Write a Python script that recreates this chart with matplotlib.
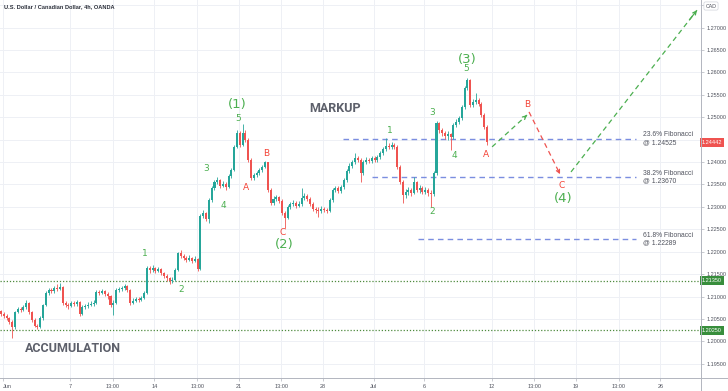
import matplotlib.pyplot as plt
from matplotlib.lines import Line2D
from matplotlib.transforms import blended_transform_factory

# USD/CAD 4h candles, x = trading days counted from Jun 1 2021
first_open = 1.2068
closes = [
    1.2061, 1.2056, 1.2052, 1.2043, 1.2032, 1.2065, 1.2072, 1.2070, 1.2077, 1.2086,
    1.2065, 1.2048, 1.2034, 1.2032, 1.2052, 1.2081, 1.2108, 1.2115, 1.2112, 1.2119,
    1.2117, 1.2121, 1.2086, 1.2081, 1.2079, 1.2086, 1.2083, 1.2088, 1.2061, 1.2077,
    1.2079, 1.2081, 1.2083, 1.2086, 1.2110, 1.2108, 1.2112, 1.2106, 1.2101, 1.2081,
    1.2086, 1.2115, 1.2117, 1.2119, 1.2123, 1.2115, 1.2086, 1.2090, 1.2094, 1.2092,
    1.2097, 1.2108, 1.2164, 1.2159, 1.2164, 1.2157, 1.2161, 1.2152, 1.2146, 1.2141,
    1.2135, 1.2137, 1.2159, 1.2197, 1.2190, 1.2186, 1.2181, 1.2186, 1.2179, 1.2184,
    1.2161, 1.2280, 1.2286, 1.2273, 1.2315, 1.2342, 1.2356, 1.2360, 1.2347, 1.2351,
    1.2344, 1.2369, 1.2382, 1.2434, 1.2465, 1.2438, 1.2465, 1.2449, 1.2405, 1.2365,
    1.2371, 1.2376, 1.2382, 1.2389, 1.2400, 1.2338, 1.2309, 1.2318, 1.2322, 1.2313,
    1.2286, 1.2275, 1.2300, 1.2306, 1.2309, 1.2302, 1.2306, 1.2320, 1.2324, 1.2318,
    1.2306, 1.2295, 1.2293, 1.2291, 1.2295, 1.2293, 1.2291, 1.2315, 1.2338, 1.2342,
    1.2335, 1.2344, 1.2360, 1.2380, 1.2391, 1.2400, 1.2409, 1.2405, 1.2376, 1.2400,
    1.2405, 1.2402, 1.2409, 1.2405, 1.2411, 1.2420, 1.2429, 1.2436, 1.2434, 1.2438,
    1.2434, 1.2389, 1.2356, 1.2327, 1.2333, 1.2338, 1.2331, 1.2356, 1.2338, 1.2342,
    1.2333, 1.2338, 1.2331, 1.2329, 1.2376, 1.2487, 1.2472, 1.2465, 1.2458, 1.2463,
    1.2456, 1.2483, 1.2489, 1.2498, 1.2523, 1.2565, 1.2583, 1.2527, 1.2534, 1.2539,
    1.2530, 1.2505, 1.2478, 1.24442,
]
highs = [
    1.2070, 1.2065, 1.2061, 1.2054, 1.2048, 1.2068, 1.2077, 1.2077, 1.2081, 1.2092,
    1.2088, 1.2068, 1.2052, 1.2039, 1.2056, 1.2083, 1.2112, 1.2119, 1.2119, 1.2123,
    1.2128, 1.2130, 1.2123, 1.2090, 1.2086, 1.2090, 1.2090, 1.2092, 1.2090, 1.2081,
    1.2083, 1.2088, 1.2090, 1.2092, 1.2115, 1.2115, 1.2117, 1.2115, 1.2110, 1.2103,
    1.2092, 1.2119, 1.2121, 1.2123, 1.2128, 1.2126, 1.2117, 1.2097, 1.2099, 1.2099,
    1.2101, 1.2112, 1.2168, 1.2168, 1.2170, 1.2166, 1.2166, 1.2164, 1.2155, 1.2150,
    1.2144, 1.2144, 1.2164, 1.2199, 1.2204, 1.2195, 1.2190, 1.2193, 1.2188, 1.2190,
    1.2186, 1.2284, 1.2293, 1.2289, 1.2320, 1.2347, 1.2360, 1.2367, 1.2362, 1.2358,
    1.2356, 1.2373, 1.2387, 1.2438, 1.2472, 1.2469, 1.2485, 1.2472, 1.2454, 1.2409,
    1.2376, 1.2380, 1.2387, 1.2394, 1.2402, 1.2400, 1.2342, 1.2324, 1.2327, 1.2324,
    1.2318, 1.2291, 1.2304, 1.2311, 1.2315, 1.2313, 1.2313, 1.2342, 1.2331, 1.2329,
    1.2322, 1.2311, 1.2300, 1.2300, 1.2302, 1.2300, 1.2298, 1.2320, 1.2342, 1.2347,
    1.2347, 1.2349, 1.2365, 1.2385, 1.2398, 1.2405, 1.2420, 1.2414, 1.2409, 1.2405,
    1.2411, 1.2409, 1.2414, 1.2414, 1.2416, 1.2425, 1.2434, 1.2454, 1.2443, 1.2445,
    1.2443, 1.2438, 1.2394, 1.2360, 1.2340, 1.2344, 1.2342, 1.2367, 1.2358, 1.2349,
    1.2347, 1.2344, 1.2342, 1.2338, 1.2380, 1.2492, 1.2489, 1.2476, 1.2469, 1.2469,
    1.2465, 1.2487, 1.2496, 1.2503, 1.2527, 1.2570, 1.2588, 1.2585, 1.2541, 1.2554,
    1.2543, 1.2534, 1.2510, 1.2483,
]
lows = [
    1.2056, 1.2052, 1.2048, 1.2039, 1.2007, 1.2027, 1.2063, 1.2065, 1.2068, 1.2072,
    1.2061, 1.2043, 1.2032, 1.2027, 1.2030, 1.2048, 1.2079, 1.2103, 1.2108, 1.2108,
    1.2112, 1.2115, 1.2081, 1.2077, 1.2072, 1.2077, 1.2079, 1.2079, 1.2056, 1.2059,
    1.2072, 1.2074, 1.2079, 1.2079, 1.2083, 1.2103, 1.2106, 1.2101, 1.2094, 1.2077,
    1.2059, 1.2083, 1.2110, 1.2112, 1.2115, 1.2110, 1.2081, 1.2083, 1.2088, 1.2088,
    1.2090, 1.2094, 1.2106, 1.2152, 1.2155, 1.2152, 1.2155, 1.2148, 1.2141, 1.2135,
    1.2128, 1.2130, 1.2135, 1.2157, 1.2186, 1.2181, 1.2177, 1.2179, 1.2175, 1.2177,
    1.2157, 1.2159, 1.2275, 1.2269, 1.2264, 1.2311, 1.2338, 1.2351, 1.2342, 1.2344,
    1.2338, 1.2342, 1.2365, 1.2380, 1.2431, 1.2434, 1.2436, 1.2445, 1.2400, 1.2360,
    1.2360, 1.2367, 1.2371, 1.2378, 1.2387, 1.2333, 1.2304, 1.2304, 1.2313, 1.2309,
    1.2282, 1.2253, 1.2273, 1.2295, 1.2302, 1.2298, 1.2300, 1.2302, 1.2315, 1.2313,
    1.2302, 1.2291, 1.2286, 1.2277, 1.2286, 1.2289, 1.2286, 1.2289, 1.2311, 1.2333,
    1.2331, 1.2331, 1.2340, 1.2356, 1.2376, 1.2387, 1.2396, 1.2400, 1.2356, 1.2371,
    1.2396, 1.2398, 1.2398, 1.2400, 1.2400, 1.2407, 1.2416, 1.2425, 1.2429, 1.2429,
    1.2429, 1.2385, 1.2351, 1.2309, 1.2320, 1.2327, 1.2324, 1.2329, 1.2333, 1.2331,
    1.2329, 1.2329, 1.2324, 1.2300, 1.2324, 1.2371, 1.2465, 1.2458, 1.2452, 1.2449,
    1.2427, 1.2452, 1.2478, 1.2485, 1.2494, 1.2519, 1.2561, 1.2523, 1.2523, 1.2530,
    1.2525, 1.2501, 1.2474, 1.2438,
]
bar_start = -0.1   # first bar, in trading days
bars_per_day = 6

tick_days = [0, 4, 6.54, 9, 11.54, 14, 16.54, 19, 22, 25, 29, 31.54, 34, 36.54, 39]
tick_labels = ['Jun', '7', '13:00', '14', '13:00', '21', '13:00', '28',
               'Jul', '6', '12', '13:00', '19', '13:00', '26']
price_ticks = [1.195 + 0.005 * k for k in range(17)]

fib_names = ['23.6%', '38.2%', '61.8%']
fib_levels = [1.24525, 1.23670, 1.22289]
fib_from = [20.19, 21.9, 24.64]
fib_to = 37.57

support_levels = [1.21350, 1.20250]
last_price = 1.24442

# projected path (day, price)
proj_b_days, proj_b_prices = [29.03, 31.1], [1.2434, 1.2505]
proj_c_days, proj_c_prices = [31.22, 33.06], [1.2512, 1.2373]
proj_5_days, proj_5_prices = [33.71, 41.18], [1.2378, 1.2739]

# wave labels: text, day, price, kind
wave_labels = [
    ('1', 8.45, 1.2197, 'minor'), ('2', 10.62, 1.2115, 'minor'),
    ('3', 12.06, 1.2385, 'minor'), ('4', 13.07, 1.2304, 'minor'),
    ('5', 13.96, 1.2498, 'minor'), ('(1)', 13.9, 1.2528, 'major'),
    ('A', 14.44, 1.2344, 'abc'), ('B', 15.62, 1.2420, 'abc'),
    ('C', 16.63, 1.2242, 'abc'), ('(2)', 16.69, 1.2216, 'major'),
    ('1', 22.98, 1.2470, 'minor'), ('2', 25.47, 1.2289, 'minor'),
    ('3', 25.47, 1.2510, 'minor'), ('4', 26.77, 1.2414, 'minor'),
    ('5', 27.48, 1.2608, 'minor'), ('(3)', 27.54, 1.2630, 'major'),
    ('A', 28.67, 1.2416, 'abc'), ('B', 31.14, 1.2529, 'abc'),
    ('C', 33.14, 1.2347, 'abc'), ('(4)', 33.22, 1.2318, 'major'),
]

GREEN = '#26a69a'
RED = '#ef5350'
LBL_GREEN = '#4caf50'
LBL_RED = '#f44336'
GRID = '#eef0f5'
AXIS = '#b2b5be'
TXT = '#50535e'
SMALL = ['Liberation Sans', 'DejaVu Sans']

plt.rcParams['font.family'] = ['DejaVu Sans']

fig = plt.figure(figsize=(7.28, 3.91), dpi=100)
ax = fig.add_axes([0, 13 / 391, 700.5 / 728, 378 / 391])

# grid
for d in tick_days:
    ax.axvline(d, color=GRID, lw=0.7, zorder=0)
for p in price_ticks:
    ax.axhline(p, color=GRID, lw=0.7, zorder=0)

# candles
opens = [first_open] + closes[:-1]
xs = [bar_start + i / bars_per_day for i in range(len(closes))]
for x, o, h, l, c in zip(xs, opens, highs, lows, closes):
    col = GREEN if c >= o else RED
    ax.vlines(x, min(l, o, c), max(h, o, c), color=col, lw=0.6, zorder=3)
    body = max(abs(c - o), 0.00008)
    ax.bar(x, body, bottom=min(o, c), width=0.12, color=col, lw=0, zorder=4)

# support / resistance dotted lines
for lv in support_levels:
    ax.axhline(lv, color='#4e8a3e', lw=0.9, ls=(0, (1, 1.5)), zorder=2)

# fibonacci levels
for name, lv, x0 in zip(fib_names, fib_levels, fib_from):
    ax.plot([x0, fib_to], [lv, lv], color='#7b8ee0', lw=1.0, ls=(0, (4, 3)), zorder=2)
    ax.text(fib_to + 0.42, lv, f'{name} Fibonacci\n@ {lv:.5f}', fontsize=4.9,
            family=SMALL, color=TXT, va='center', ha='left', linespacing=1.1,
            zorder=5, clip_on=False)

# projections
for dd, pp, col in [(proj_b_days, proj_b_prices, LBL_GREEN),
                    (proj_c_days, proj_c_prices, RED),
                    (proj_5_days, proj_5_prices, LBL_GREEN)]:
    ax.plot(dd, pp, color=col, lw=0.9, ls=(0, (4, 3)), zorder=5)
    ax.annotate('', xy=(dd[1], pp[1]),
                xytext=(dd[1] - (dd[1] - dd[0]) * 0.06, pp[1] - (pp[1] - pp[0]) * 0.06),
                arrowprops=dict(arrowstyle='->', color=col, lw=0.9,
                                mutation_scale=6, shrinkA=0, shrinkB=0), zorder=5)

# wave labels
for txt, d, p, kind in wave_labels:
    if kind == 'major':
        ax.text(d, p, txt, color=LBL_GREEN, fontsize=9.5, ha='center', va='center', zorder=6)
    elif kind == 'minor':
        ax.text(d, p, txt, color=LBL_GREEN, fontsize=6.5, ha='center', va='center', zorder=6)
    else:
        ax.text(d, p, txt, color=LBL_RED, fontsize=6.5, ha='center', va='center', zorder=6)

ax.text(4.2, 1.1985, 'ACCUMULATION', color='#5d606b', fontsize=9, fontweight='bold',
        family=['Roboto', 'DejaVu Sans'], ha='center', va='center', zorder=6)
ax.text(19.69, 1.2519, 'MARKUP', color='#5d606b', fontsize=9, fontweight='bold',
        family=['Roboto', 'DejaVu Sans'], ha='center', va='center', zorder=6)

# axes styling; labels hidden under the CAD badge and the last-price tag stay blank
hidden = {1.275, 1.245}
ax.set_xlim(-0.154, 41.39)
ax.set_ylim(1.19181, 1.27618)
ax.set_xticks(tick_days)
ax.set_xticklabels(tick_labels, family=SMALL)
ax.get_xticklabels()[0].set_horizontalalignment('left')
ax.set_yticks(price_ticks)
ax.set_yticklabels(['' if round(p, 3) in hidden else f'{p:.5f}' for p in price_ticks],
                   family=SMALL)
ax.yaxis.tick_right()
ax.tick_params(axis='both', labelsize=4.0, colors=TXT, length=2.5, width=0.5, pad=2)
ax.tick_params(axis='x', color=AXIS)
ax.tick_params(axis='y', color=AXIS)
for s in ['top', 'left', 'right', 'bottom']:
    ax.spines[s].set_visible(False)

fig.add_artist(Line2D([0, 1], [13 / 391, 13 / 391], color=AXIS, lw=0.7))
fig.add_artist(Line2D([700.5 / 728, 700.5 / 728], [0, 1], color=AXIS, lw=0.7))

# price tags on the right axis
tr = blended_transform_factory(ax.transAxes, ax.transData)
for lv in support_levels:
    ax.text(1.002, lv, f'{lv:.5f}', transform=tr, fontsize=4.0, family=SMALL,
            color='white', va='center', ha='left', zorder=7, clip_on=False,
            bbox=dict(boxstyle='square,pad=0.35', fc='#388e3c', ec='none'))
ax.text(1.002, last_price, f'{last_price:.5f}', transform=tr, fontsize=4.0, family=SMALL,
        color='white', va='center', ha='left', zorder=7, clip_on=False,
        bbox=dict(boxstyle='square,pad=0.35', fc='#ef5350', ec='none'))

fig.text(4 / 728, 1 - 7 / 391, 'U.S. Dollar / Canadian Dollar, 4h, OANDA', fontsize=4.1,
         family=SMALL, fontweight='bold', color='#2a2e39', va='center', ha='left')
fig.text(711 / 728, 1 - 6 / 391, 'CAD', fontsize=3.8, family=SMALL, color=TXT,
         va='center', ha='center',
         bbox=dict(boxstyle='round,pad=0.3', fc='white', ec='#d1d4dc', lw=0.5))

fig.savefig('out.png', dpi=100)
